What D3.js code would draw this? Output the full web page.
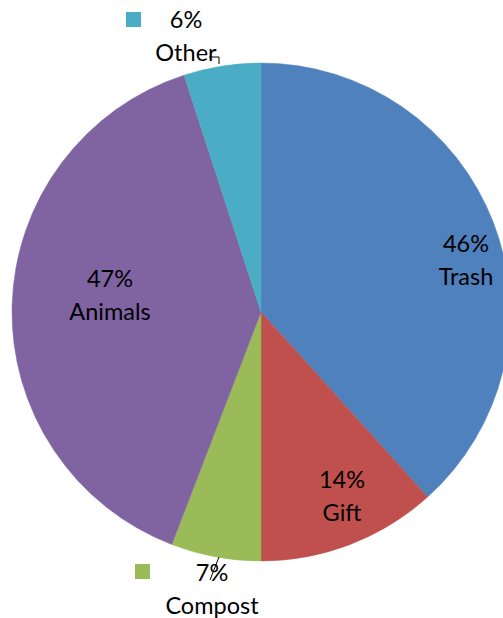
<!DOCTYPE html>
<html><head><meta charset="utf-8">
<script src="https://cdn.jsdelivr.net/npm/d3@7"></script>
<style>body{margin:0;background:#fff}svg{display:block}</style>
</head><body>
<script>
const categories = ["Trash","Gift","Compost","Animals","Other"];
const values = [46,14,7,47,6];
const labels = ["46%","14%","7%","47%","6%"];
const colors = ["#4F81BD","#C0504D","#9BBB59","#8064A2","#4BACC6"];

const W=503,H=618,cx=261,cy=312,R=249;
const svg=d3.select("body").append("svg").attr("width",W).attr("height",H);
const pie=d3.pie().sort(null).value(d=>d)(values);
const arc=d3.arc().innerRadius(0).outerRadius(R);
const g=svg.append("g").attr("transform",`translate(${cx},${cy})`);
g.selectAll("path").data(pie).join("path").attr("d",arc)
 .attr("fill",(d,i)=>colors[i]).attr("stroke",(d,i)=>colors[i]).attr("stroke-width",0.5);

const labelPos = [
  {x:466,y:252,key:false},
  {x:342,y:488,key:false},
  {x:212,y:581,key:true,kx:135,ky:564},
  {x:110,y:287,key:false},
  {x:186,y:28,key:true,kx:126,ky:12}
];
const font="Lato, 'Open Sans', sans-serif";
const lg=svg.append("g");
lg.append("polyline").attr("points","209,57 219,57 219,64").attr("fill","none").attr("stroke","#000").attr("stroke-width",1);
lg.append("line").attr("x1",219).attr("y1",557).attr("x2",210).attr("y2",580).attr("stroke","#000").attr("stroke-width",1);

categories.forEach((c,i)=>{
  const p=labelPos[i];
  if(p.key) lg.append("rect").attr("x",p.kx).attr("y",p.ky).attr("width",15).attr("height",15).attr("fill",colors[i]);
  lg.append("text").attr("x",p.x).attr("y",p.y).attr("text-anchor","middle")
    .attr("font-family",font).attr("font-size",23.5).attr("fill","#000").text(labels[i]);
  lg.append("text").attr("x",p.x).attr("y",p.y+33).attr("text-anchor","middle")
    .attr("font-family",font).attr("font-size",23.5).attr("fill","#000").text(c);
});
</script>
</body></html>
